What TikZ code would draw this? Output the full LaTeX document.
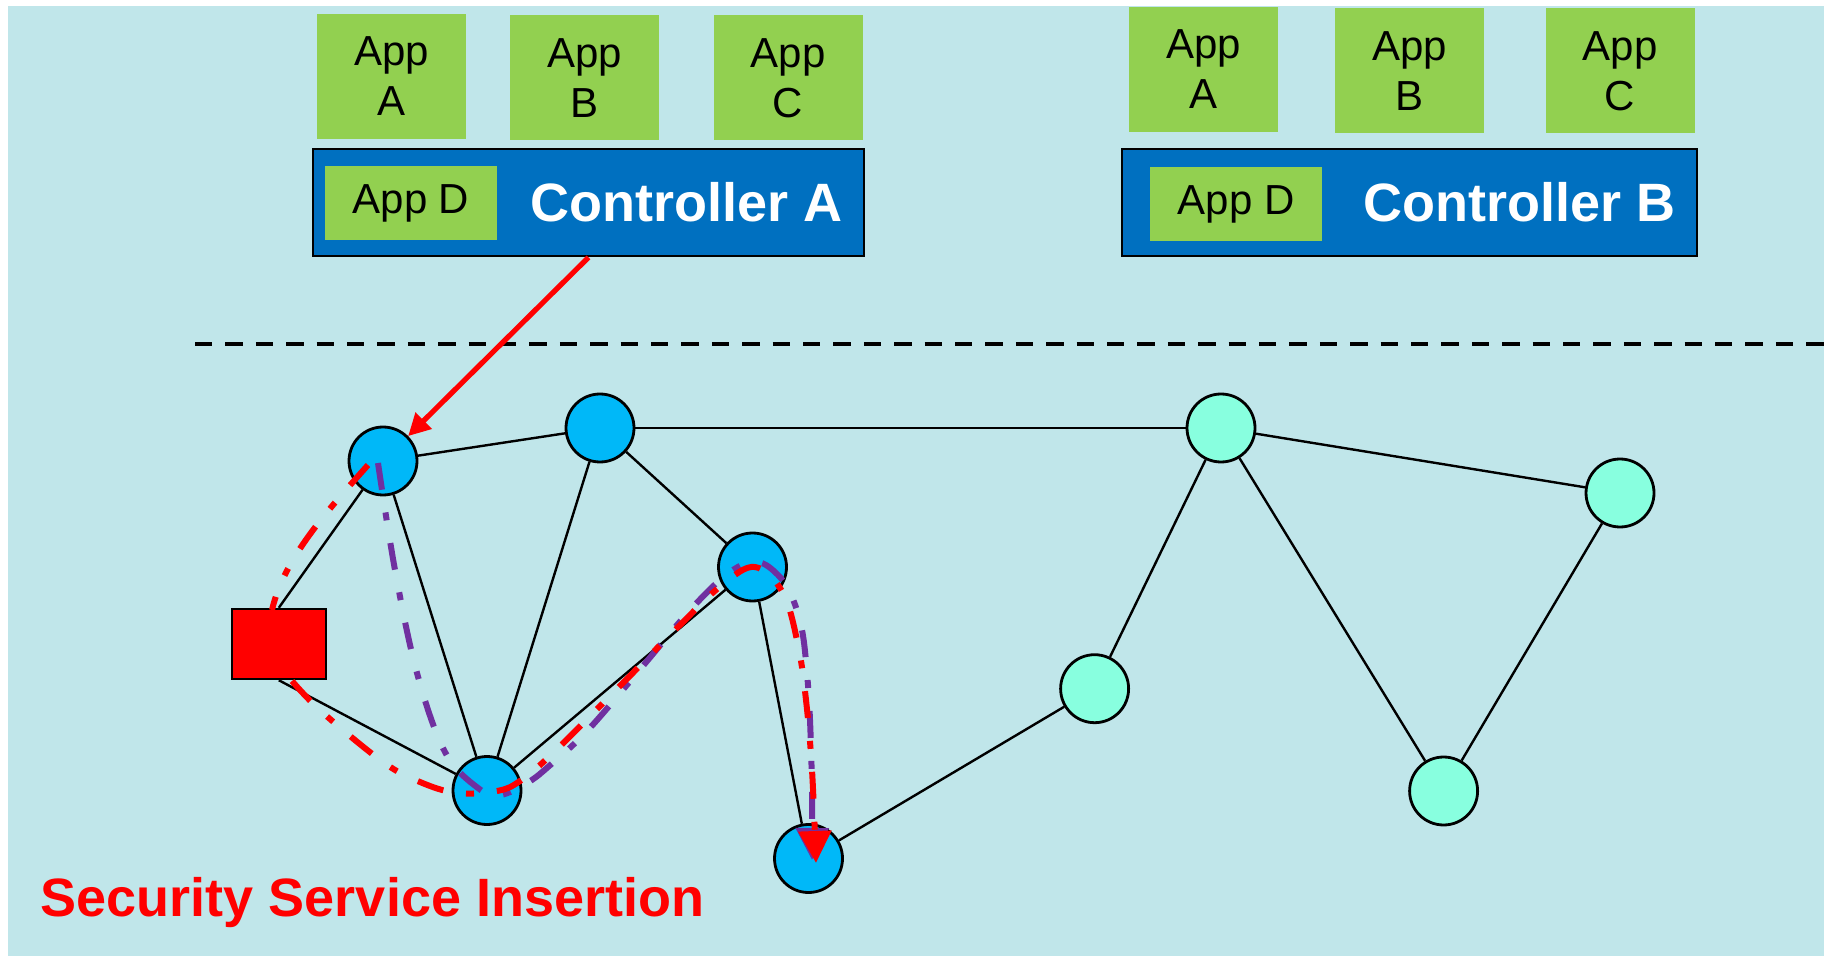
\documentclass[tikz,border=0pt]{standalone}
\usepackage{fontspec}
\setmainfont{Liberation Sans}
\usetikzlibrary{arrows.meta}
\definecolor{bgblue}{HTML}{C0E6EA}
\definecolor{appgreen}{HTML}{92D050}
\definecolor{ctrlblue}{HTML}{0070C0}
\definecolor{nodeblue}{HTML}{00B8F8}
\definecolor{nodeaqua}{HTML}{88FFDF}
\definecolor{pathpurple}{HTML}{7030A0}
\begin{document}
\begin{tikzpicture}[x=0.5pt,y=-0.5pt,
  appbox/.style={fill=appgreen, inner sep=0pt, align=center,
    minimum width=74.5pt, minimum height=62.5pt, font=\fontsize{21}{25}\selectfont},
  appd/.style={fill=appgreen, inner sep=0pt, minimum width=86pt, minimum height=37pt,
    font=\fontsize{21}{25}\selectfont},
  ctrl/.style={fill=ctrlblue, draw=black, line width=1.4pt, inner sep=0pt, minimum height=53.5pt},
  ctrltext/.style={anchor=base west, inner sep=0pt, text=white, font=\bfseries\fontsize{27}{30}\selectfont},
  bnode/.style={circle, draw=black, line width=1.4pt, fill=nodeblue, minimum size=34pt, inner sep=0pt},
  gnode/.style={circle, draw=black, line width=1.4pt, fill=nodeaqua, minimum size=34pt, inner sep=0pt},
  link/.style={draw=black, line width=1.2pt},
  flow/.style={line width=3pt, dash pattern=on 13.5pt off 11.5pt on 4pt off 11.5pt},
  flowtip/.style={-{Triangle[length=16pt,width=16pt]}}
]
\useasboundingbox (0,0) rectangle (1824,956);
\fill[white] (0,0) rectangle (1824,956);
\fill[bgblue] (7.5,6) rectangle (1824,956);

% controller A side
\node[appbox] (aA) at (391.5,76.5) {App\\A};
\node[appbox] (aB) at (584.5,78) {App\\B};
\node[appbox] (aC) at (788,78) {App\\C};
\node[ctrl, minimum width=275.5pt] (ctrlA) at (588.5,202.5) {};
\node[appd] (aD) at (411,203) {App D};
\node[ctrltext] (ctA) at (530,221.5) {Controller A};

% controller B side
\node[appbox] (bA) at (1203.5,69.5) {App\\A};
\node[appbox] (bB) at (1409.5,71) {App\\B};
\node[appbox] (bC) at (1620,71) {App\\C};
\node[ctrl, minimum width=287.5pt] (ctrlB) at (1409.5,202.5) {};
\node[appd] (bD) at (1236,204) {App D};
\node[ctrltext] (ctB) at (1363,221.5) {Controller B};

% dashed separator
\coordinate (dl) at (195,344);
\coordinate (dr) at (1824,344);
\draw[line width=2pt, dash pattern=on 8.7pt off 6.5pt] (dl) -- (dr);

% network nodes
\node[bnode] (n1) at (383,461) {};
\node[bnode] (n2) at (600,428) {};
\node[bnode] (n3) at (752.5,567) {};
\node[bnode] (n4) at (487,790.5) {};
\node[bnode] (n5) at (808.5,858.5) {};
\node[gnode] (g1) at (1221,428) {};
\node[gnode] (g2) at (1620,493) {};
\node[gnode] (g3) at (1094.6,688.7) {};
\node[gnode] (g4) at (1443.6,791) {};
\node[draw=black, line width=1.2pt, fill=red, minimum width=47pt, minimum height=35pt, inner sep=0pt] (sq) at (278.8,644) {};

% links
\draw[link] (n1) -- (n2);
\draw[link] (n2) -- (g1);
\draw[link] (g1) -- (g2);
\draw[link] (sq.north) -- (n1);
\draw[link] (sq.south) -- (n4);
\draw[link] (n1) -- (n4);
\draw[link] (n2) -- (n4);
\draw[link] (n2) -- (n3);
\draw[link] (n4) -- (n3);
\draw[link] (n3) -- (n5);
\draw[link] (n5) -- (g3);
\draw[link] (g3) -- (g1);
\draw[link] (g1) -- (g4);
\draw[link] (g4) -- (g2);

% controller arrow
\draw[red, line width=2.6pt, -{Triangle[length=11pt,width=11pt]}] (ctrlA.south) -- (n1);

% purple path
\draw[flow, pathpurple, flowtip] plot[smooth, tension=0.6] coordinates {
 (378,463) (395,570) (417,673) (445,752) (478,788) (500,795) (527,783) (548,767)
 (588,730) (642,667) (692,608) (730,572) (757,562) (778,575) (792,597) (802,630)
 (807,673) (810,720) (812,790) (812,860)};

% red path
\draw[flow, red] (368,465) .. controls (328,510) and (284,558) .. (272,610);
\draw[flow, red, flowtip] plot[smooth, tension=0.6] coordinates {
 (292,681) (322,712) (383,762) (420,782) (457,793) (497,791) (520,781) (553,753)
 (617,689) (680,625) (722,585) (755,567) (783,593) (798,645) (806,700) (812,770)
 (816,863)};

\node[anchor=base west, inner sep=0pt, text=red, font=\bfseries\fontsize{27}{30}\selectfont] (title) at (40.5,916) {Security Service Insertion};
\end{tikzpicture}
\end{document}
